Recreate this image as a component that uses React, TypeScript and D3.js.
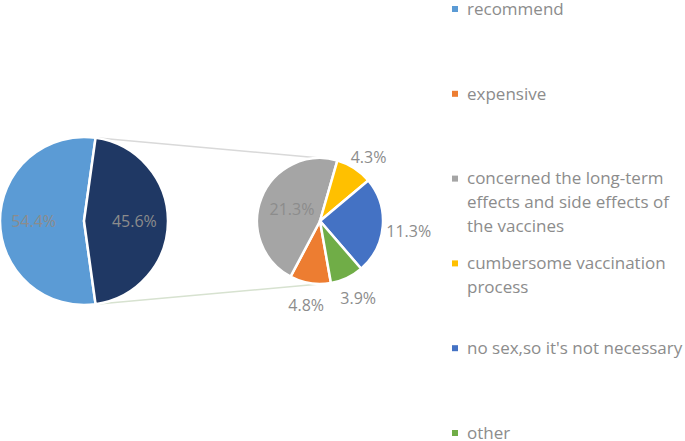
import { useEffect, useRef } from 'react';
import * as d3 from 'd3';

// legend / categories
const categories = [
  'recommend',
  'expensive',
  'concerned the long-term effects and side effects of the vaccines',
  'cumbersome vaccination process',
  "no sex,so it's not necessary",
  'other',
];
const legendLines = [
  ['recommend'],
  ['expensive'],
  ['concerned the long-term', 'effects and side effects of', 'the vaccines'],
  ['cumbersome vaccination', 'process'],
  ["no sex,so it's not necessary"],
  ['other'],
];
const values = [54.4, 4.8, 21.3, 4.3, 11.3, 3.9];
const colors = ['#5b9bd5', '#ed7d31', '#a5a5a5', '#ffc000', '#4472c4', '#70ad47'];
const otherColor = '#1f3864';
const secondPieStartDeg = 170;

const W = 685;
const H = 441;
const FONT = '"Open Sans", "Noto Sans", sans-serif';
const TEXT = '#8c8c8c';

export default function App() {
  const svgRef = useRef<SVGSVGElement | null>(null);

  useEffect(() => {
    const svg = d3.select(svgRef.current).attr('width', W).attr('height', H);
    svg.selectAll('*').remove();

    const rest = values.slice(1);
    const restTotal = d3.sum(rest);
    const total = d3.sum(values);

    // 左の円
    const cx1 = 84, cy1 = 221, r1 = 84;
    const otherAng = (restTotal / total) * Math.PI * 2;
    const mainData = [
      { label: values[0], color: colors[0] },
      { label: restTotal, color: otherColor },
    ];
    const start1 = Math.PI / 2 + otherAng / 2;
    const pie1 = d3.pie<{ label: number; color: string }>()
      .sort(null)
      .value(d => d.label)
      .startAngle(start1)
      .endAngle(start1 + Math.PI * 2);
    const arc1 = d3.arc<d3.PieArcDatum<{ label: number; color: string }>>()
      .innerRadius(0).outerRadius(r1);
    const lab1 = d3.arc<d3.PieArcDatum<{ label: number; color: string }>>()
      .innerRadius(r1 * 0.6).outerRadius(r1 * 0.6);

    // 右の円
    const cx2 = 320, cy2 = 221, r2 = 63;
    const restData = rest.map((v, i) => ({ label: v, color: colors[i + 1] }));
    const start2 = (secondPieStartDeg * Math.PI) / 180;
    const pie2 = d3.pie<{ label: number; color: string }>()
      .sort(null)
      .value(d => d.label)
      .startAngle(start2)
      .endAngle(start2 + Math.PI * 2);
    const arc2 = d3.arc<d3.PieArcDatum<{ label: number; color: string }>>()
      .innerRadius(0).outerRadius(r2);

    // 接続線
    const a0 = Math.PI / 2 - otherAng / 2;
    const a1 = Math.PI / 2 + otherAng / 2;
    const lines = [
      { x1: cx1 + r1 * Math.sin(a0), y1: cy1 - r1 * Math.cos(a0), x2: cx2, y2: cy2 - r2, c: '#d9d9d9' },
      { x1: cx1 + r1 * Math.sin(a1), y1: cy1 - r1 * Math.cos(a1), x2: cx2, y2: cy2 + r2, c: '#d7e2d0' },
    ];
    svg.selectAll('line.series')
      .data(lines)
      .enter()
      .append('line')
      .attr('x1', d => d.x1).attr('y1', d => d.y1)
      .attr('x2', d => d.x2).attr('y2', d => d.y2)
      .attr('stroke', d => d.c)
      .attr('stroke-width', 1.5);

    const g1 = svg.append('g').attr('transform', `translate(${cx1},${cy1})`);
    const arcs1 = pie1(mainData);
    g1.selectAll('path')
      .data(arcs1)
      .enter()
      .append('path')
      .attr('d', arc1)
      .attr('fill', d => d.data.color)
      .attr('stroke', '#fff')
      .attr('stroke-width', 2.5)
      .attr('stroke-linejoin', 'round');
    g1.selectAll('text')
      .data(arcs1)
      .enter()
      .append('text')
      .attr('transform', d => `translate(${lab1.centroid(d)})`)
      .attr('text-anchor', 'middle')
      .attr('dy', '0.36em')
      .attr('font-family', FONT)
      .attr('font-size', 16)
      .attr('fill', TEXT)
      .text(d => `${d.data.label.toFixed(1)}%`);

    const g2 = svg.append('g').attr('transform', `translate(${cx2},${cy2})`);
    const arcs2 = pie2(restData);
    g2.selectAll('path')
      .data(arcs2)
      .enter()
      .append('path')
      .attr('d', arc2)
      .attr('fill', d => d.data.color)
      .attr('stroke', '#fff')
      .attr('stroke-width', 2.5)
      .attr('stroke-linejoin', 'round');

    // ラベル: 大きい扇形は内側、小さいものは外側
    const labW = 44, labH = 28;
    g2.selectAll('text')
      .data(arcs2)
      .enter()
      .append('text')
      .attr('transform', d => {
        const mid = (d.startAngle + d.endAngle) / 2;
        const sx = Math.sin(mid), sy = -Math.cos(mid);
        if (d.data.label / restTotal > 0.3) {
          return `translate(${sx * r2 * 0.48},${sy * r2 * 0.48})`;
        }
        const p = r2 + 4;
        return `translate(${sx * p + sx * labW / 2},${sy * p + sy * labH / 2 + 4})`;
      })
      .attr('text-anchor', 'middle')
      .attr('dy', '0.36em')
      .attr('font-family', FONT)
      .attr('font-size', 16)
      .attr('fill', TEXT)
      .text(d => `${d.data.label.toFixed(1)}%`);

    // 凡例
    const legendX = 452;
    const legendY = d3.scaleLinear().domain([0, categories.length - 1]).range([9, 433]);
    const lg = svg.append('g');
    const items = lg.selectAll('g')
      .data(legendLines)
      .enter()
      .append('g')
      .attr('transform', (d, i) => `translate(${legendX},${legendY(i)})`);
    items.append('rect')
      .attr('x', 0).attr('y', -3)
      .attr('width', 6).attr('height', 6)
      .attr('fill', (d, i) => colors[i]);
    items.each(function (lns) {
      d3.select(this).selectAll('text')
        .data(lns)
        .enter()
        .append('text')
        .attr('x', 15)
        .attr('y', (d, j) => j * 24)
        .attr('dy', '0.34em')
        .attr('font-family', FONT)
        .attr('font-size', 17)
        .attr('fill', TEXT)
        .text(d => d);
    });
  }, []);

  return (
    <div style={{ position: 'absolute', left: 0, top: 0 }}>
      <svg ref={svgRef}></svg>
    </div>
  );
}
